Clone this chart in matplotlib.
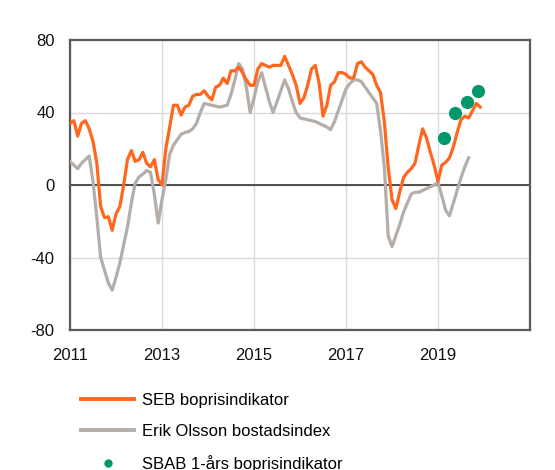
#!/usr/bin/env python3
import matplotlib
matplotlib.use("Agg")
import matplotlib.pyplot as plt
from matplotlib.lines import Line2D
import numpy as np

# monthly values, Jan 2011 onwards
seb = [34, 35.5, 27, 34, 35.5, 31, 24, 12, -12, -18, -17.5, -25,
       -16, -12, 0, 14, 19, 13, 14, 18, 12, 10, 14, 3,
       0, 20, 32, 44, 44, 38.6, 43, 44, 49, 50, 50, 52,
       49, 47, 54, 55, 59, 56, 63, 63, 65, 62, 58, 55,
       55, 64, 67, 66, 65, 66, 66, 66, 71, 66, 61, 55,
       45, 48, 55, 64, 66, 56, 38, 44, 55, 57, 62, 62,
       61, 59, 59, 67, 68, 65, 63, 61, 55, 51, 35, 10,
       -8, -13, -4, 4, 7, 9, 12, 22, 31, 26, 18, 11,
       2, 11, 12.5, 15, 21, 29, 36, 38, 37, 41, 45, 43]

erik = [13, 11, 9, 12, 14, 16, 2, -18, -40, -47, -54, -58,
        -51, -43, -33, -23, -10, 1, 4.5, 6, 8, 7, -5, -21,
        -8, 3, 17, 22, 25, 28, 29, 29.5, 31, 34, 40, 45,
        44.5, 44, 43.5, 43, 43.5, 44, 50, 58, 67, 64, 54, 40,
        48, 57, 62, 54, 46, 40, 46, 52, 58, 53, 46, 40,
        37, 36.5, 36, 35.5, 35, 34, 33, 32, 30.5, 35, 41, 47,
        53, 56, 58, 58, 57, 54, 51, 48, 45, 30, 10, -28,
        -34, -28, -22, -15, -10, -5, -4, -4, -3, -2, -1, 0,
        1.5, -6, -14, -17, -10, -3, 4, 10, 15]

# quarterly, 2019
sbab_dates = [2019.125, 2019.375, 2019.625, 2019.875]
sbab = [26, 40, 46, 52]

year_ticks = [2011, 2013, 2015, 2017, 2019]
y_ticks = [-80, -40, 0, 40, 80]

labels = ["SEB boprisindikator", "Erik Olsson bostadsindex",
          "SBAB 1-års boprisindikator"]

ORANGE = "#FF671F"
GREY = "#B5ADA8"
GREEN = "#00976B"


def main() -> None:
    plt.rcParams["font.family"] = ["Liberation Sans", "DejaVu Sans"]
    plt.rcParams["font.size"] = 12
    plt.rcParams["axes.unicode_minus"] = False

    fig = plt.figure(figsize=(5.55, 4.7), dpi=100)
    ax = fig.add_axes([70 / 555, 1 - 330 / 470, 460 / 555, 290 / 470])

    t_seb = 2011 + np.arange(len(seb)) / 12
    t_erik = 2011 + np.arange(len(erik)) / 12

    ax.plot(t_erik, erik, color=GREY, lw=2.3, zorder=3)
    ax.plot(t_seb, seb, color=ORANGE, lw=2.3, zorder=4)
    ax.plot(sbab_dates, sbab, "o", color=GREEN, ms=9.5, mec="none", zorder=5)

    ax.axhline(0, color="#333333", lw=1.2, zorder=2)
    ax.set_xlim(2011, 2021)
    ax.set_ylim(-80, 80)
    ax.set_xticks(year_ticks)
    ax.set_yticks(y_ticks)
    ax.grid(True, color="#DADADA", lw=1, zorder=0)
    ax.tick_params(length=0, colors="#111111")
    ax.tick_params(axis="y", pad=11)
    ax.tick_params(axis="x", pad=13)
    for s in ax.spines.values():
        s.set_color("#5A5A5A")
        s.set_linewidth(1.6)

    handles = [
        Line2D([], [], color=ORANGE, lw=2.8),
        Line2D([], [], color=GREY, lw=2.8),
        Line2D([], [], ls="none", marker="o", color=GREEN, ms=6, mec="none"),
    ]
    fig.legend(handles, labels, loc="upper left",
               bbox_to_anchor=(81 / 555, 1 - 393 / 470),
               frameon=False, borderpad=0, handlelength=3.2,
               handletextpad=0.45, labelspacing=0.95, borderaxespad=0)

    fig.savefig("out.png", dpi=100)
    plt.close(fig)


if __name__ == "__main__":
    main()
